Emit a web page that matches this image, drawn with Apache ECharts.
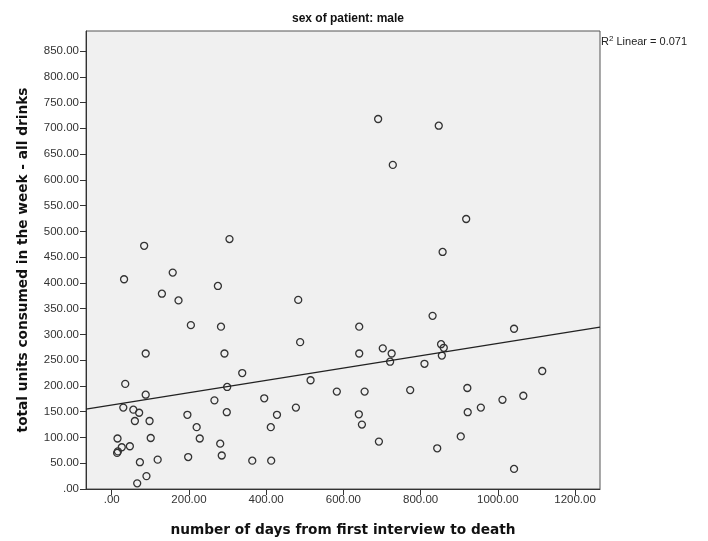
<!DOCTYPE html>
<html lang="en">
<head>
    <meta charset="UTF-8" />
    <title>sex of patient: male</title>
    <script src="https://cdn.jsdelivr.net/npm/echarts@6/dist/echarts.min.js"></script>
</head>
<body style="margin: 0">
    <div id="main" style="width: 708px; height: 541px"></div>

    <script>
        // days from first interview to death (x) / units consumed in the week (y)
        var daysToDeath = [
            84, 305, 32, 158, 275, 130, 173, 483, 205, 283,
            488, 88, 292, 338, 515, 583, 35, 88, 299, 266,
            395, 30, 56, 71, 477, 298, 196, 428, 60, 98,
            220, 412, 15, 101, 228, 281, 26, 47, 16, 14,
            285, 198, 119, 73, 364, 413, 90, 66,
            690, 847, 728, 918, 857,
            831, 641, 1042, 641, 702, 725, 721, 853, 860, 855, 810,
            1115, 655, 773, 921, 1066, 1012, 956, 922, 640, 648,
            692, 904, 843, 1042
        ];
        var unitsConsumed = [
            472, 485, 407, 420, 394, 379, 366, 367, 318, 315,
            285, 263, 263, 225, 211, 189, 204, 183, 198, 172,
            176, 158, 154, 148, 158, 149, 144, 144, 132, 132,
            120, 120, 98, 99, 98, 88, 81, 83, 73, 70,
            65, 62, 57, 52, 55, 55, 25, 11,
            718, 705, 629, 524, 460,
            336, 315, 311, 263, 273, 263, 247, 281, 274, 259, 243,
            229, 189, 192, 196, 181, 173, 158, 149, 145, 125,
            92, 102, 79, 39
        ];

        var xTicks = [0, 200, 400, 600, 800, 1000, 1200];
        var yTicks = [0, 50, 100, 150, 200, 250, 300, 350, 400, 450, 500, 550, 600, 650, 700, 750, 800, 850];

        // fit line
        var fitIntercept = 163;
        var fitSlope = 0.1195;
        var xMin = -66.6, xMax = 1264.6;
        var yMin = 0, yMax = 888.8;

        function fmt(v) {
            return v.toFixed(2).replace(/^0\./, ".");
        }

        var chart = echarts.init(document.getElementById("main"));

        var points = daysToDeath.map(function (d, i) {
            return [d, unitsConsumed[i]];
        });
        var fitLine = [
            [xMin, fitIntercept + fitSlope * xMin],
            [xMax, fitIntercept + fitSlope * xMax]
        ];

        var labelFont = { fontFamily: "Liberation Sans", fontSize: 11.5, color: "#333" };
        var nameFont = { fontFamily: "DejaVu Sans", fontSize: 13.7, fontWeight: "bold", color: "#111" };

        var option = {
            backgroundColor: "#fff",
            animation: false,
            title: {
                text: "sex of patient: male",
                left: 343,
                top: 8,
                textAlign: "center",
                textStyle: { fontFamily: "Liberation Sans", fontSize: 12, fontWeight: "bold", color: "#111" }
            },
            grid: {
                left: 86,
                right: 108,
                top: 31,
                bottom: 52,
                show: true,
                backgroundColor: "#f0f0f0",
                borderColor: "#555",
                borderWidth: 1,
                outerBoundsMode: "none"
            },
            xAxis: {
                type: "value",
                min: xMin,
                max: xMax,
                name: "number of days from first interview to death",
                nameLocation: "middle",
                nameGap: 34,
                nameTextStyle: nameFont,
                splitLine: { show: false },
                axisLine: { onZero: false, lineStyle: { color: "#333", width: 1 } },
                axisTick: { customValues: xTicks, length: 6, lineStyle: { color: "#333" } },
                axisLabel: Object.assign({ customValues: xTicks, margin: 5, formatter: fmt }, labelFont)
            },
            yAxis: {
                type: "value",
                min: yMin,
                max: yMax,
                name: "total units consumed in the week - all drinks",
                nameLocation: "middle",
                nameGap: 56,
                nameTextStyle: nameFont,
                splitLine: { show: false },
                axisLine: { show: true, onZero: false, lineStyle: { color: "#333", width: 1 } },
                axisTick: { show: true, customValues: yTicks, length: 6, lineStyle: { color: "#333" } },
                axisLabel: Object.assign({ customValues: yTicks, margin: 7, formatter: fmt }, labelFont)
            },
            graphic: [
                {
                    type: "text",
                    left: 601,
                    top: 35,
                    style: {
                        text: "{a|R}{s|2}{a| Linear = 0.071}",
                        rich: {
                            a: { fontFamily: "Liberation Sans", fontSize: 11, fill: "#222", verticalAlign: "bottom" },
                            s: { fontFamily: "Liberation Sans", fontSize: 8, fill: "#222", verticalAlign: "top", padding: [0, 0, 4, 0] }
                        }
                    }
                }
            ],
            series: [
                {
                    name: "units",
                    type: "scatter",
                    data: points,
                    symbol: "circle",
                    symbolSize: 7,
                    itemStyle: { color: "rgba(0,0,0,0)", borderColor: "#333", borderWidth: 1.3, opacity: 1 }
                },
                {
                    name: "fit",
                    type: "line",
                    data: fitLine,
                    showSymbol: false,
                    symbol: "none",
                    lineStyle: { color: "#222", width: 1.3 },
                    silent: true
                }
            ]
        };
        chart.setOption(option);
    </script>
</body>
</html>
